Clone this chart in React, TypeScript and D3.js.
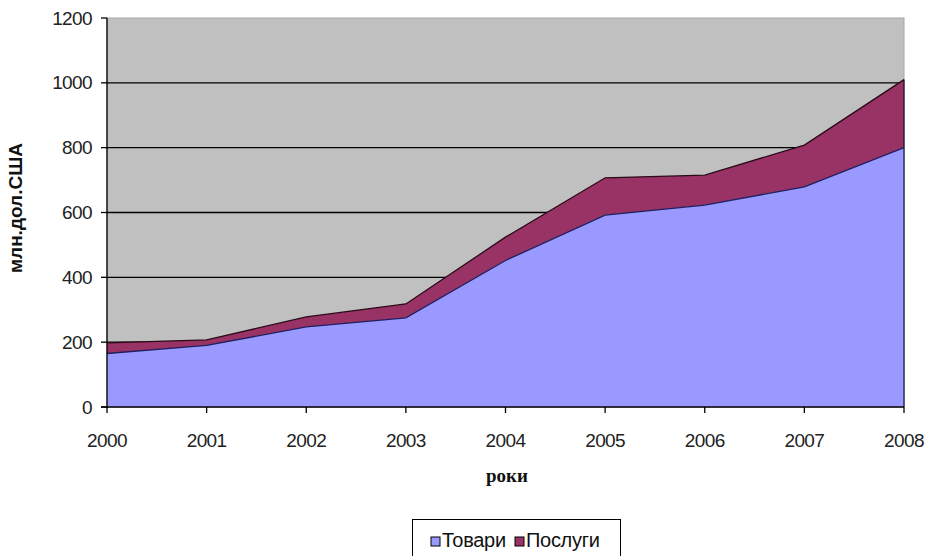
import React from "react";
import * as d3 from "d3";

const years = ["2000", "2001", "2002", "2003", "2004", "2005", "2006", "2007", "2008"];
const goods = [165, 190, 247, 275, 452, 592, 623, 679, 800];
const services = [33, 17, 31, 43, 72, 115, 92, 129, 210];
const yTicks = [0, 200, 400, 600, 800, 1000, 1200];
const seriesNames = ["Товари", "Послуги"];
const seriesColors = ["#9999ff", "#993366"];

const W = 925, H = 556;
const left = 107, right = 904, top = 18, bottom = 407;

export default function App() {
  const x = d3.scalePoint<string>().domain(years).range([left, right]);
  const y = d3.scaleLinear().domain([0, 1200]).range([bottom, top]);
  const rows = years.map((yr, i) => ({ yr, g: goods[i], s: services[i] }));
  const stack = d3.stack<any>().keys(["g", "s"])(rows);
  const area = d3.area<any>()
    .x((d) => x(d.data.yr)!)
    .y0((d) => y(d[0]))
    .y1((d) => y(d[1]));
  const topLine = d3.line<any>().x((d) => x(d.data.yr)!).y((d) => y(d[1]));
  const sans = "Arial, 'Liberation Sans', sans-serif";
  return (
    <svg width={W} height={H} style={{ position: "absolute", left: 0, top: 0, background: "#fff" }}>
      <rect x={left} y={top} width={right - left} height={bottom - top} fill="#c0c0c0" stroke="#a8a8a8" strokeWidth={1} />
      {yTicks.slice(1, -1).map((t) => (
        <line key={t} x1={left} x2={right} y1={y(t)} y2={y(t)} stroke="#000" strokeWidth={1.3} />
      ))}
      {stack.map((s, i) => (
        <path key={i} d={area(s)!} fill={seriesColors[i]} />
      ))}
      {stack.map((s, i) => (
        <path key={"l" + i} d={topLine(s)!} fill="none" stroke={i === 0 ? "#202060" : "#2a0a18"} strokeWidth={1.3} />
      ))}
      <line x1={right} x2={right} y1={y(goods[8] + services[8])} y2={bottom} stroke="#101030" strokeWidth={1.2} />
      {/* axes */}
      <line x1={left} x2={left} y1={top} y2={bottom + 1} stroke="#000" strokeWidth={1.3} />
      <line x1={left - 6} x2={right} y1={bottom} y2={bottom} stroke="#000" strokeWidth={1.3} />
      {yTicks.map((t) => (
        <g key={t}>
          <line x1={left - 6} x2={left} y1={y(t)} y2={y(t)} stroke="#000" strokeWidth={1.3} />
          <text x={left - 15} y={y(t)} dy="0.35em" textAnchor="end" fontFamily={sans} fontSize={19} letterSpacing={-0.6} fill="#222">{t}</text>
        </g>
      ))}
      {years.map((yr) => (
        <g key={yr}>
          <line x1={x(yr)!} x2={x(yr)!} y1={bottom} y2={bottom + 6} stroke="#000" strokeWidth={1.3} />
          <text x={x(yr)!} y={447} textAnchor="middle" fontFamily={sans} fontSize={19} letterSpacing={-0.6} fill="#222">{yr}</text>
        </g>
      ))}
      <text x={507} y={482} textAnchor="middle" fontFamily="'Liberation Serif', 'Times New Roman', serif" fontWeight="bold" fontSize={19} fill="#111">роки</text>
      <text transform={`translate(22,208) rotate(-90)`} textAnchor="middle" fontFamily={sans} fontWeight="bold" fontSize={19} fill="#111">млн.дол.США</text>
      {/* legend */}
      <rect x={412.5} y={519.5} width={208} height={40} fill="#fff" stroke="#000" strokeWidth={1} />
      {seriesNames.map((n, i) => {
        const lx = i === 0 ? 431 : 515;
        return (
          <g key={n}>
            <rect x={lx} y={537} width={9} height={9} fill={seriesColors[i]} stroke="#000" strokeWidth={1} />
            <text x={lx + 11} y={547} fontFamily={sans} fontSize={20} letterSpacing={-0.3} fill="#111">{n}</text>
          </g>
        );
      })}
    </svg>
  );
}
